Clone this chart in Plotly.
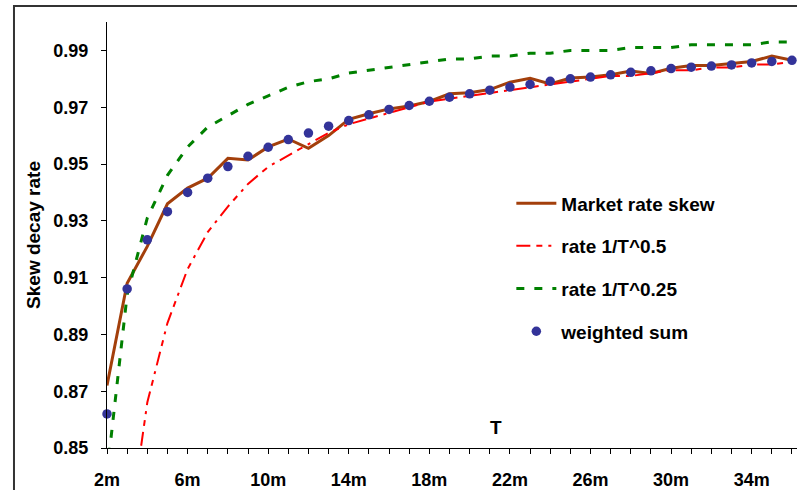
import plotly.graph_objects as go

# Maturities in months and the skew decay rates observed / modelled
months = list(range(2, 37))
month_labels = [f"{m}m" if (m - 2) % 4 == 0 else "" for m in months]

market_skew = [0.872, 0.908, 0.921, 0.936, 0.9415, 0.945, 0.952, 0.9514, 0.956, 0.9588,
               0.9555, 0.960, 0.9657, 0.9677, 0.9694, 0.9704, 0.972, 0.9747, 0.9751, 0.9762,
               0.9788, 0.9802, 0.9782, 0.9803, 0.9806, 0.9814, 0.9827, 0.9819, 0.9837, 0.9847,
               0.9847, 0.9853, 0.9861, 0.988, 0.9865]

rate_half = [0.707, 0.816, 0.866, 0.894, 0.913, 0.926, 0.935, 0.943, 0.949, 0.953,
             0.957, 0.961, 0.964, 0.966, 0.968, 0.970, 0.972, 0.973, 0.974, 0.975,
             0.976, 0.977, 0.978, 0.979, 0.980, 0.981, 0.981, 0.982, 0.983, 0.983,
             0.984, 0.984, 0.985, 0.985, 0.986]

rate_quarter = [0.841, 0.904, 0.931, 0.946, 0.956, 0.963, 0.967, 0.971, 0.974, 0.977,
                0.979, 0.980, 0.982, 0.983, 0.984, 0.985, 0.986, 0.987, 0.987, 0.988,
                0.988, 0.989, 0.989, 0.990, 0.990, 0.990, 0.991, 0.991, 0.991, 0.992,
                0.992, 0.992, 0.992, 0.993, 0.993]

weighted_sum = [0.862, 0.906, 0.9233, 0.9332, 0.940, 0.945, 0.9491, 0.9527, 0.9559, 0.9586,
                0.9609, 0.9633, 0.9653, 0.9673, 0.9692, 0.9706, 0.9721, 0.9735, 0.9747, 0.976,
                0.9771, 0.978, 0.9791, 0.980, 0.9806, 0.9814, 0.9823, 0.9828, 0.9836, 0.9841,
                0.9845, 0.9849, 0.9856, 0.9861, 0.9865]

y_ticks = [0.85, 0.87, 0.89, 0.91, 0.93, 0.95, 0.97, 0.99]

FONT = "Liberation Sans, Arial, sans-serif"

fig = go.Figure()

fig.add_trace(go.Scatter(
    x=months, y=market_skew, mode="lines", name="Market rate skew",
    line=dict(color="#A33F0B", width=3), legendgroup="a",
))
fig.add_trace(go.Scatter(
    x=months, y=rate_half, mode="lines", name="rate 1/T^0.5",
    line=dict(color="#FF0000", width=2, dash="14px,6px,6px,6px,3px,6px"), legendgroup="b",
))
fig.add_trace(go.Scatter(
    x=months, y=rate_quarter, mode="lines", name="rate 1/T^0.25",
    line=dict(color="#008000", width=3, dash="8px,10px"), legendgroup="c",
))
fig.add_trace(go.Scatter(
    x=months, y=weighted_sum, mode="markers", name="weighted sum",
    marker=dict(color="#333399", size=9.5), cliponaxis=False, legendgroup="d",
))

fig.update_layout(
    width=797, height=490,
    margin=dict(l=107, r=0, t=22, b=42),
    paper_bgcolor="white", plot_bgcolor="white",
    font=dict(family=FONT, size=18, color="black", weight="bold"),
    showlegend=True,
    legend=dict(
        x=0.586, y=0.619, xanchor="left", yanchor="top",
        font=dict(family=FONT, size=19, color="black", weight="bold"),
        bgcolor="rgba(0,0,0,0)", traceorder="grouped", tracegroupgap=15,
        itemwidth=40,
    ),
    xaxis=dict(
        range=[2, 36.25], tickmode="array", tickvals=months, ticktext=month_labels,
        ticks="outside", ticklen=5, tickcolor="black", tickwidth=1,
        showline=True, linecolor="black", linewidth=1, showgrid=False, zeroline=False,
        ticklabelstandoff=10,
    ),
    yaxis=dict(
        range=[0.85, 1.0], tickmode="array", tickvals=y_ticks,
        ticktext=[f"{v:.2f}" for v in y_ticks],
        ticks="outside", ticklen=5, tickcolor="black", tickwidth=1,
        showline=True, linecolor="black", linewidth=1, showgrid=False, zeroline=False,
        ticklabelstandoff=9,
        title=dict(text="Skew decay rate", font=dict(family=FONT, size=19, weight="bold"),
                   standoff=7),
    ),
    shapes=[dict(
        type="rect", xref="paper", yref="paper",
        x0=-0.1348, x1=1.02, y0=-0.2, y1=1.0376,
        line=dict(color="#333333", width=2), fillcolor="rgba(0,0,0,0)", layer="above",
    )],
    annotations=[dict(
        text="T", xref="paper", yref="paper", x=0.5638, y=0.047,
        xanchor="center", yanchor="middle",
        showarrow=False, font=dict(family=FONT, size=19, weight="bold"),
    )],
)

fig.write_html("out.html")
